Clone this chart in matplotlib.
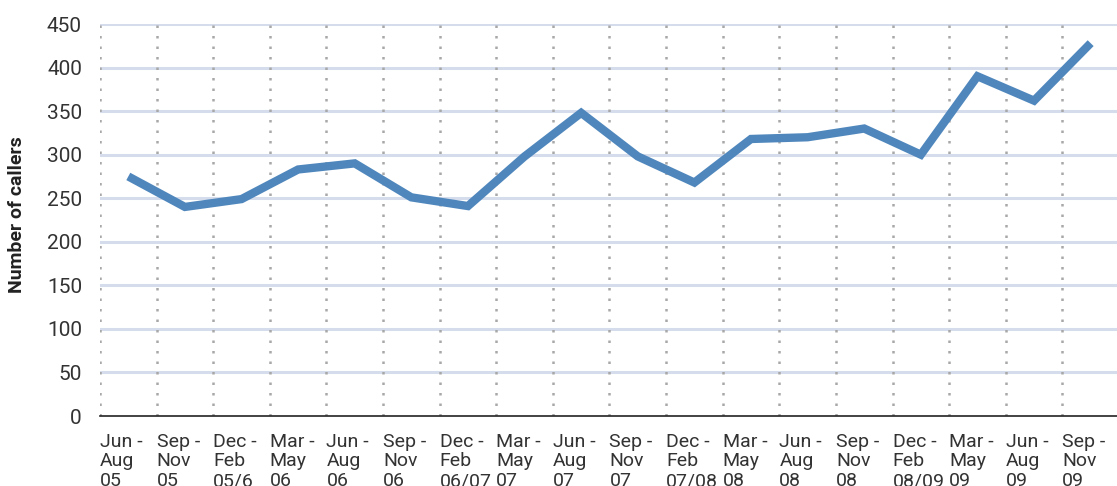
"""
Number of callers per quarter, Jun-Aug 05 to Sep-Nov 09.
"""

import matplotlib
matplotlib.use("Agg")
import matplotlib.pyplot as plt

plt.rcParams["font.family"] = ["Roboto", "DejaVu Sans"]

quarters = [
    "Jun -\nAug\n05", "Sep -\nNov\n05", "Dec -\nFeb\n05/6", "Mar -\nMay\n06",
    "Jun -\nAug\n06", "Sep -\nNov\n06", "Dec -\nFeb\n06/07", "Mar -\nMay\n07",
    "Jun -\nAug\n07", "Sep -\nNov\n07", "Dec -\nFeb\n07/08", "Mar -\nMay\n08",
    "Jun -\nAug\n08", "Sep -\nNov\n08", "Dec -\nFeb\n08/09", "Mar -\nMay\n09",
    "Jun -\nAug\n09", "Sep -\nNov\n09",
]
callers = [275, 240, 249, 283, 290, 251, 241, 298, 348, 298,
           268, 318, 320, 330, 300, 390, 362, 428]
y_ticks = [0, 50, 100, 150, 200, 250, 300, 350, 400, 450]

LINE = "#4f87bd"
GRID = "#d5dcec"
TEXT = "#333333"

fig = plt.figure(figsize=(11.17, 4.86), dpi=100)
ax = fig.add_axes([100 / 1117, 1 - 416 / 486, 1 - 100 / 1117 + 0.02, 392 / 486])

x = list(range(len(callers)))

# horizontal grid (solid, light blue) and vertical category dividers (dotted)
for v in y_ticks[1:]:
    ax.axhline(v, color=GRID, linewidth=2.2, zorder=1)
for i in range(len(callers)):
    ax.axvline(i - 0.5, color="#a8a8a8", linewidth=1.8,
               linestyle=(0, (1, 3.2)), zorder=1)

ax.plot(x, callers, color=LINE, linewidth=6, solid_capstyle="butt",
        solid_joinstyle="miter", zorder=3)

ax.set_xlim(-0.5, len(callers) - 0.5 + 0.02 * 18)
ax.set_ylim(0, 450)
ax.set_yticks(y_ticks)
ax.set_xticks([i - 0.5 for i in x])
ax.set_xticklabels(quarters, ha="left", fontsize=14, color=TEXT,
                   linespacing=1.12)
ax.tick_params(axis="x", length=0, pad=12)
ax.tick_params(axis="y", length=0, pad=13, labelsize=15, labelcolor=TEXT)

for s in ["top", "right", "left"]:
    ax.spines[s].set_visible(False)
ax.spines["bottom"].set_color("#222222")
ax.spines["bottom"].set_linewidth(1.2)
ax.spines["bottom"].set_zorder(4)

fig.text(17 / 1117, 1 - 215 / 486, "Number of callers", rotation=90,
         ha="center", va="center", fontsize=14, fontweight="bold", color="#222222")

fig.savefig("out.png", dpi=100)
